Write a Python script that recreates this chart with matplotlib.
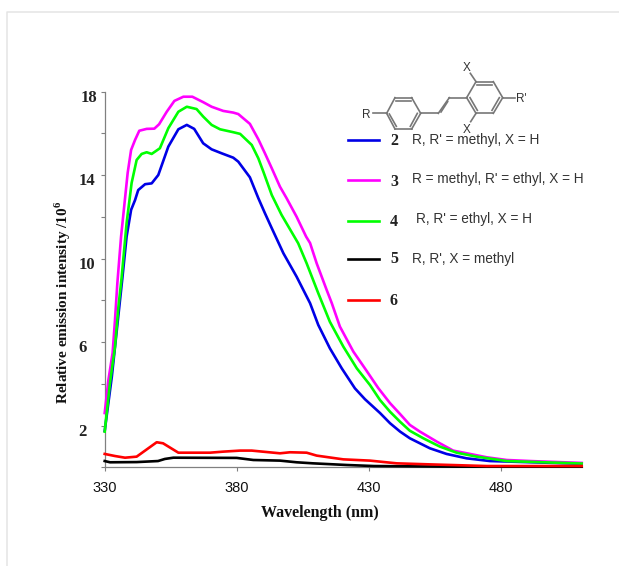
"""
Relative emission spectra of stilbene derivatives 2-6, with the structure sketch and hand placed key.
"""

import matplotlib
matplotlib.use('Agg')
import matplotlib.pyplot as plt
from matplotlib.lines import Line2D

SERIF = 'Liberation Serif'
SANS = 'Liberation Sans'

plt.rcParams['mathtext.fontset'] = 'custom'
plt.rcParams['mathtext.rm'] = 'Liberation Serif:bold'

# values
wl_2 = [330, 332.7, 335, 336.7, 338.3, 340, 341.5, 342.7, 345.3, 347.8, 350.3, 354.1, 357.9, 361.1, 363.9,
        367.3, 370.5, 374.3, 378.7, 380.6, 385, 388.2, 390.7, 393.3, 397.7, 402.7, 407.8, 410.9, 415.3,
        419.8, 424.8, 428.6, 434.3, 438.1, 441.9, 445.6, 453.2, 459.5, 467.1, 475.9, 510.7]
int_2 = [1.74, 4.34, 7.06, 9.07, 11.05, 12.33, 12.8, 13.28, 13.56, 13.6, 14.0, 15.36, 16.19, 16.4, 16.21,
         15.52, 15.23, 15.04, 14.83, 14.64, 13.89, 12.89, 12.17, 11.45, 10.25, 9.13, 7.86, 6.82, 5.7,
         4.74, 3.78, 3.26, 2.6, 2.11, 1.71, 1.39, 0.91, 0.64, 0.43, 0.3, 0.17]

wl_3 = [330, 331.4, 333, 333.9, 334.8, 336.2, 338.7, 340, 341.5, 343.1, 345.9, 348.8, 350.6, 353.5, 356.4,
        359.8, 363.2, 367.3, 370.5, 374.9, 378.7, 380.6, 385, 388.2, 390.7, 393.3, 396.4, 398.9, 402.7,
        406.3, 407.8, 410.3, 414.1, 416, 419.1, 424.2, 429, 433.6, 438.1, 441.9, 445.6, 449.4, 455.8,
        462, 468.4, 474.7, 482.3, 491.1, 510.7]
int_3 = [2.6, 4.18, 5.48, 7.06, 8.83, 11.05, 14.1, 15.2, 15.68, 16.12, 16.21, 16.22, 16.43, 17.03, 17.55,
         17.75, 17.75, 17.49, 17.27, 17.07, 16.99, 16.92, 16.45, 15.71, 15.04, 14.32, 13.44, 12.89, 12.0,
         11.05, 10.74, 9.77, 8.49, 7.87, 6.74, 5.54, 4.66, 3.8, 3.07, 2.55, 2.03, 1.71, 1.23,
         0.8, 0.64, 0.48, 0.35, 0.3, 0.21]

wl_4 = [330, 332, 333.9, 335.2, 336.4, 338.3, 340.2, 342.1, 344, 345.9, 347.8, 350.9, 354.1, 357.9, 361.1,
        364.8, 367.3, 370.5, 373.7, 378.7, 381.3, 385.7, 388.2, 390.1, 393.3, 397, 403.3, 406.5, 410.9,
        415.3, 420.4, 425.5, 430.5, 434.3, 438.1, 441.9, 445.6, 450.7, 457, 463.3, 470.9, 482.3, 510.7]
int_4 = [1.71, 4.04, 5.78, 7.69, 9.07, 11.7, 13.62, 14.72, 15.01, 15.09, 15.01, 15.28, 16.24, 17.03, 17.27,
         17.16, 16.8, 16.4, 16.19, 16.05, 15.97, 15.44, 14.8, 14.16, 13.04, 12.09, 10.73, 9.77, 8.34,
         6.97, 5.78, 4.74, 3.94, 3.22, 2.66, 2.18, 1.75, 1.39, 0.99, 0.7, 0.51, 0.3, 0.18]

wl_5 = [330, 332, 342.1, 350.2, 352.8, 356, 380, 386.3, 396.4, 402.7, 408.9, 421.7, 432, 463.3, 510.7]
int_5 = [0.3, 0.24, 0.25, 0.3, 0.4, 0.46, 0.45, 0.35, 0.32, 0.24, 0.19, 0.11, 0.06, 0.03, 0.03]

wl_6 = [330, 333.9, 337.7, 342.1, 345.3, 349.7, 352.1, 357.9, 369.9, 374.9, 381.3, 385.7, 396.4, 400.2,
        406.5, 410.3, 420.4, 430.5, 440.6, 453.2, 474.7, 510.7]
int_6 = [0.64, 0.54, 0.46, 0.51, 0.8, 1.2, 1.15, 0.7, 0.7, 0.75, 0.8, 0.8, 0.67, 0.72,
         0.7, 0.56, 0.38, 0.32, 0.19, 0.14, 0.06, 0.06]

x_ticks = [330, 380, 430, 480]
y_ticks = [0, 2, 4, 6, 8, 10, 12, 14, 16, 18]
y_labelled = [2, 6, 10, 14, 18]

compound_ids = ['2', '3', '4', '5', '6']
compound_text = ["R, R' = methyl, X = H", "R = methyl, R' = ethyl, X = H", "R, R' = ethyl, X = H",
                 "R, R', X = methyl", ""]
compound_colors = ['#0000e6', '#ff00ff', '#00ff00', '#000000', '#ff0000']

W, H = 619, 566
fig = plt.figure(figsize=(W / 100, H / 100), dpi=100)

# axes box in pixels: 330 at x=104.7, 510.7 at x=581.7, 0 at y=467.3, 18 at y=91.5
ax = fig.add_axes([104.7 / W, 1 - 467.3 / H, 477 / W, 375.8 / H])
series = [(wl_2, int_2, 0), (wl_3, int_3, 1), (wl_4, int_4, 2), (wl_5, int_5, 3), (wl_6, int_6, 4)]
for wl, vals, idx in series:
    ax.plot(wl, vals, color=compound_colors[idx], lw=1.9, solid_joinstyle='round', clip_on=False, zorder=3)

ax.set_xlim(330, 510.7)
ax.set_ylim(0, 18)
ax.set_xticks(x_ticks)
ax.set_yticks(y_ticks)
ax.set_yticklabels([])
ax.tick_params(axis='both', color='#808080', length=3, width=0.8)
ax.tick_params(axis='x', labelsize=10.5, pad=7, labelcolor='#111111')
for label in ax.get_xticklabels():
    label.set_fontfamily(SANS)
for spine in ['top', 'right']:
    ax.spines[spine].set_visible(False)
for spine in ['left', 'bottom']:
    ax.spines[spine].set_color('#808080')
    ax.spines[spine].set_linewidth(0.9)

# the y labels sit a little under their ticks and are left aligned
for val in y_labelled:
    dx = -17 if val == 18 else -19
    ax.annotate(str(val), xy=(330, val), xytext=(dx, -4.5), textcoords='offset points', ha='left', va='center',
                fontsize=12, family=SERIF, fontweight='bold', color='#222222')

ax.set_xlabel('Wavelength (nm)', fontsize=11.5, family=SERIF, fontweight='bold', color='#111111')
ax.xaxis.set_label_coords((320 - 104.7) / 477, (467.3 - 505) / 375.8)
ax.set_ylabel('Relative emission intensity /10$^{6}$', fontsize=11, family=SERIF, fontweight='bold',
              color='#111111')
ax.yaxis.set_label_coords((73 - 104.7) / 477, (467.3 - 302) / 375.8)

# overlay in pixel coordinates for the page border, key and structure
over = fig.add_axes([0, 0, 1, 1], facecolor='none')
over.set_xlim(0, W)
over.set_ylim(H, 0)
over.axis('off')

over.add_line(Line2D([7, 7, W], [H, 12, 12], color='#e4e4e4', lw=1.1))

key_y = [140, 180, 220.5, 259, 300]
num_y = [141, 182, 222, 259, 301]
text_x = [411.5, 411.5, 415.5, 411.5, 411.5]
text_y = [140, 178.5, 219, 259, 300]
for i, cid in enumerate(compound_ids):
    over.add_line(Line2D([348, 379], [key_y[i], key_y[i]], color=compound_colors[i], lw=1.9))
    over.text(394, num_y[i], cid, ha='center', va='center', fontsize=11.5, family=SERIF, fontweight='bold',
              color='#222222')
    over.text(text_x[i], text_y[i], compound_text[i], ha='left', va='center', fontsize=9.8, family=SANS,
              color='#333333')

# structure sketch, coordinates taken from the 3x crop
def bond(x1, y1, x2, y2):
    over.add_line(Line2D([330 + x1 / 3, 330 + x2 / 3], [50 + y1 / 3, 50 + y2 / 3], color='#777777', lw=1.2))

ring_l = [(170, 190), (195, 143), (245, 143), (272, 190), (245, 237), (195, 237), (170, 190)]
ring_r = [(410, 143), (438, 95), (490, 95), (518, 143), (490, 190), (438, 190), (410, 143)]
for ring in [ring_l, ring_r]:
    for a, b in zip(ring[:-1], ring[1:]):
        bond(a[0], a[1], b[0], b[1])
bond(197, 152, 243, 152)
bond(178, 192, 199, 229)
bond(262, 190, 241, 229)
bond(442, 104, 486, 104)
bond(508, 143, 486, 181)
bond(420, 143, 442, 181)
bond(130, 190, 170, 190)
bond(272, 190, 325, 190)
bond(325, 190, 358, 143)
bond(333, 186, 353, 155)
bond(358, 143, 410, 143)
bond(438, 95, 421, 70)
bond(438, 190, 422, 215)
bond(518, 143, 555, 143)

for tx, ty, s in [(366.5, 114.5, 'R'), (467, 68, 'X'), (467, 130, 'X'), (521, 99, "R'")]:
    over.text(tx, ty, s, ha='center', va='center', fontsize=8.5, family=SANS, color='#333333')

fig.savefig('out.png', dpi=100)
plt.close(fig)
